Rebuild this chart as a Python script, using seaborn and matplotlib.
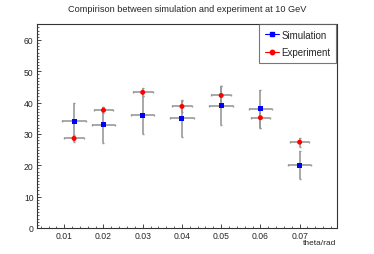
import numpy as np
import pandas as pd
import seaborn as sns
import matplotlib
matplotlib.use("Agg")
import matplotlib.pyplot as plt
from matplotlib.ticker import MultipleLocator
from matplotlib.lines import Line2D

# Data
theta = [0.0125, 0.02, 0.03, 0.04, 0.05, 0.06, 0.07]
sim_vals = [34, 33, 36, 35, 39, 38, 20]
sim_err = [5.83, 5.74, 6.0, 5.92, 6.24, 6.16, 4.47]
exp_vals = [28.6, 37.6, 43.3, 38.8, 42.3, 35.2, 27.4]
exp_err = [1.0, 0.9, 1.3, 1.8, 2.9, 3.3, 1.4]
sim_xerr = 0.003
exp_xerr = 0.0025
xtick_vals = [0.01, 0.02, 0.03, 0.04, 0.05, 0.06, 0.07]
xtick_labels = ["0.01", "0.02", "0.03", "0.04", "0.05", "0.06", "0.07"]

title = "Compirison between simulation and experiment at 10 GeV"
xlabel = "theta/rad"

sns.set_style("ticks")
plt.rcParams['font.family'] = ['Liberation Sans', 'DejaVu Sans']

fig = plt.figure(figsize=(3.74, 2.55), dpi=100)
ax = fig.add_axes([37/374, 1-229/255, (336.5-37)/374, (229-25)/255])

df = pd.DataFrame({"theta": theta + theta,
                   "value": sim_vals + exp_vals,
                   "err": sim_err + exp_err,
                   "series": ["Simulation"]*len(theta) + ["Experiment"]*len(theta)})

for name, xe in [("Simulation", sim_xerr), ("Experiment", exp_xerr)]:
    d = df[df.series == name]
    eb = ax.errorbar(d.theta, d.value, yerr=d.err, xerr=xe, fmt='none',
                     ecolor='#999999', elinewidth=1.2, capsize=1.0, capthick=1.0, zorder=2)
    for c in eb[1]:
        c.set_color('#333333')

sns.scatterplot(data=df, x="theta", y="value", hue="series", style="series",
                palette={"Simulation": "#0000ff", "Experiment": "#ff0000"},
                markers={"Simulation": "s", "Experiment": "o"},
                s=13, edgecolor='none', linewidth=0, ax=ax, legend=False, zorder=3)

handles = [Line2D([], [], color='#0000ff', marker='s', markersize=3.2, lw=0.8),
           Line2D([], [], color='#ff0000', marker='o', markersize=3.2, lw=0.8)]
leg = ax.legend(handles, ["Simulation", "Experiment"], loc='upper right',
                bbox_to_anchor=(1.0, 1.0), borderaxespad=0, fontsize=7,
                frameon=True, fancybox=False, shadow=False, handlelength=1.4,
                handletextpad=0.3, borderpad=0.6, labelspacing=0.75)
leg.get_frame().set_edgecolor('#555555')
leg.get_frame().set_linewidth(0.8)

ax.set_xlim(0.00305, 0.0794)
ax.set_ylim(0, 65.1)
ax.xaxis.set_minor_locator(MultipleLocator(0.002))
ax.yaxis.set_major_locator(MultipleLocator(10))
ax.yaxis.set_minor_locator(MultipleLocator(1))
ax.set_xticks(xtick_vals)
ax.set_xticklabels(xtick_labels)
ax.tick_params(which='major', direction='in', length=3, width=0.6, labelsize=6.2, pad=2.5,
               top=False, right=False)
ax.tick_params(which='minor', direction='in', length=1.5, width=0.5, top=False, right=False)
for s in ax.spines.values():
    s.set_linewidth(0.8)
    s.set_color('#333333')
    s.set_visible(True)
ax.set_xlabel("")
ax.set_ylabel("")
fig.text(336/374, 1-244/255, xlabel, ha='right', va='center', fontsize=6)
fig.text(187/374, 1-9/255, title, ha='center', va='center', fontsize=6.6)

fig.savefig("out.png", dpi=100)
